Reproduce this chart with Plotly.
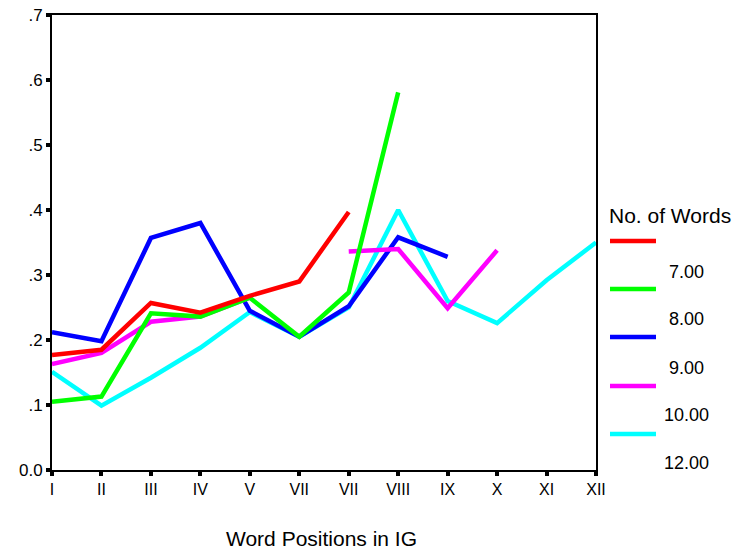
import plotly.graph_objects as go

positions = ["I", "II", "III", "IV", "V", "VII", "VII", "VIII", "IX", "X", "XI", "XII"]
y_ticks = [0.0, 0.1, 0.2, 0.3, 0.4, 0.5, 0.6, 0.7]
y_tick_labels = ["0.0", ".1", ".2", ".3", ".4", ".5", ".6", ".7"]

words_7 = [0.177, 0.185, 0.257, 0.242, 0.268, 0.290, 0.397, None, None, None, None, None]
words_8 = [0.105, 0.113, 0.241, 0.236, 0.265, 0.205, 0.273, 0.581, None, None, None, None]
words_9 = [0.212, 0.198, 0.357, 0.380, 0.245, 0.205, 0.252, 0.358, 0.328, None, None, None]
words_10 = [0.163, 0.180, 0.228, 0.236, 0.265, None, 0.336, 0.340, 0.249, 0.338, None, None]
words_12 = [0.151, 0.099, 0.142, 0.188, 0.243, 0.205, 0.250, 0.400, 0.260, 0.226, 0.292, 0.350]

series_names = ["7.00", "8.00", "9.00", "10.00", "12.00"]
series_values = [words_7, words_8, words_9, words_10, words_12]
series_colors = ["#ff0000", "#00ff00", "#0000ff", "#ff00ff", "#00ffff"]
draw_order = [4, 2, 3, 1, 0]  # bottom to top

FONT = "Arial, Liberation Sans, sans-serif"
x_idx = list(range(len(positions)))

fig = go.Figure()
for i in draw_order:
    fig.add_trace(go.Scatter(
        x=x_idx, y=series_values[i], mode="lines", name=series_names[i],
        line=dict(color=series_colors[i], width=4.5), connectgaps=False,
        showlegend=False, hoverinfo="skip"))

# plot area in pixels: left 52, right 596, top 15, bottom 470
L, R, T, B = 52, 596, 15, 470
W, H = 752, 550

def px(xp):
    return (xp - L) / (R - L)

def py(yp):
    return (B - yp) / (B - T)

shapes = []
annotations = []
annotations.append(dict(x=px(607), y=py(215), xref="paper", yref="paper",
                        text="No. of Words", showarrow=False, xanchor="left",
                        yanchor="middle", font=dict(family=FONT, size=21, color="black")))
line_y = [241, 289, 337, 386, 434]
label_y = [272, 319, 368, 415, 463]
for k, name in enumerate(series_names):
    shapes.append(dict(type="line", xref="paper", yref="paper",
                       x0=px(610), x1=px(656), y0=py(line_y[k]), y1=py(line_y[k]),
                       line=dict(color=series_colors[k], width=4.5)))
    annotations.append(dict(x=px(686), y=py(label_y[k]), xref="paper", yref="paper",
                            text=name, showarrow=False, xanchor="center", yanchor="middle",
                            font=dict(family=FONT, size=18, color="black")))

annotations.append(dict(x=px(321), y=py(538), xref="paper", yref="paper",
                        text="Word Positions in IG", showarrow=False, xanchor="center",
                        yanchor="middle", font=dict(family=FONT, size=21, color="black")))

fig.update_layout(
    width=W, height=H,
    margin=dict(l=L, r=W - R, t=T, b=H - B, pad=0, autoexpand=False),
    paper_bgcolor="white", plot_bgcolor="white",
    font=dict(family=FONT, color="black"),
    shapes=shapes, annotations=annotations,
    showlegend=False,
)
fig.update_xaxes(
    range=[0, len(positions) - 1], tickvals=x_idx, ticktext=positions,
    showgrid=False, zeroline=False, showline=True, linecolor="black", linewidth=2,
    mirror=True, ticks="outside", ticklen=4, tickwidth=4, tickcolor="black",
    tickfont=dict(family=FONT, size=16, color="black"), automargin=False,
)
fig.update_yaxes(
    range=[0, 0.7], tickvals=y_ticks, ticktext=y_tick_labels,
    showgrid=False, zeroline=False, showline=True, linecolor="black", linewidth=2,
    mirror=True, ticks="outside", ticklen=4, tickwidth=4, tickcolor="black",
    tickfont=dict(family=FONT, size=17, color="black"), automargin=False,
)

fig.write_html(
    "out.html",
    config={"displayModeBar": False},
    post_script="document.body.style.margin='0';document.body.style.padding='0';"
                "var d=document.getElementById('{plot_id}');"
                "if(d&&d.parentElement){d.parentElement.style.margin='0';d.parentElement.style.padding='0';}",
)
